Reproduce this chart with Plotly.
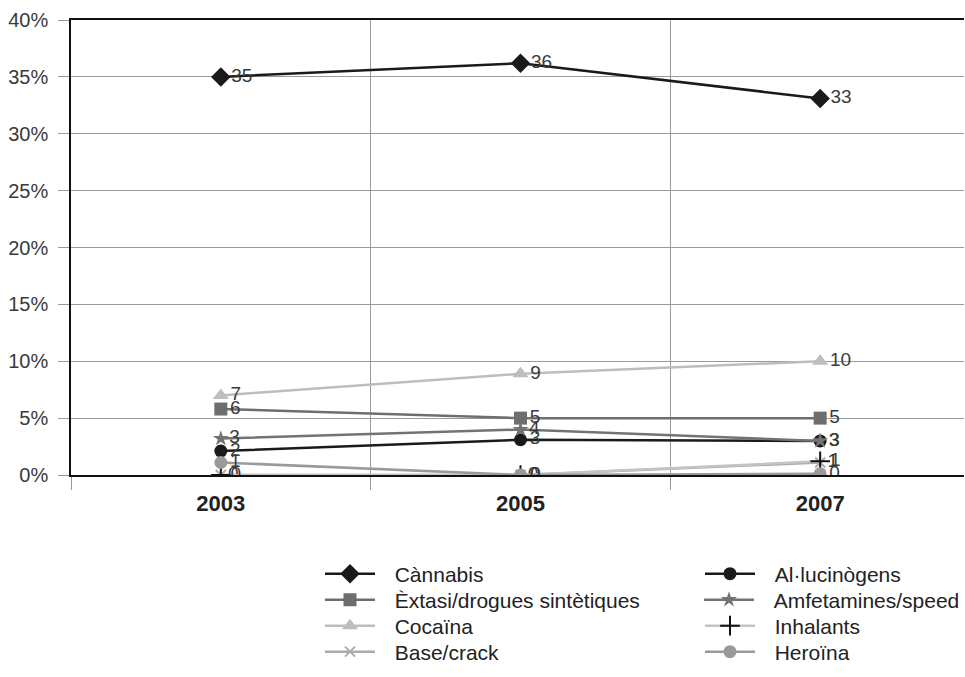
import plotly.graph_objects as go

# Survey years (category axis)
years = ["2003", "2005", "2007"]

# Prevalence of drug use, % of respondents
cannabis = [35.0, 36.2, 33.1]
extasi = [5.8, 5.0, 5.0]
cocaina = [7.0, 8.9, 10.0]
base_crack = [0.0, 0.0, 1.1]
allucinogens = [2.1, 3.1, 3.0]
amfetamines = [3.2, 4.0, 3.0]
inhalants = [0.0, 0.0, 1.2]
heroina = [1.1, 0.0, 0.1]

series_names = [
    "Cànnabis", "Èxtasi/drogues sintètiques", "Cocaïna", "Base/crack",
    "Al·lucinògens", "Amfetamines/speed", "Inhalants", "Heroïna",
]
series_values = [cannabis, extasi, cocaina, base_crack,
                 allucinogens, amfetamines, inhalants, heroina]

# line colour, marker symbol, marker colour, marker size
styles = [
    ("#1a1a1a", "diamond", "#1a1a1a", 15),
    ("#6e6e6e", "square", "#6e6e6e", 13),
    ("#bdbdbd", "triangle-up", "#bdbdbd", 14),
    ("#ababab", "x-thin", "#ababab", 10),
    ("#1a1a1a", "circle", "#1a1a1a", 13),
    ("#737373", "star", "#737373", 12),
    ("#c4c4c4", "cross-thin", "#111111", 14),
    ("#9a9a9a", "circle", "#9a9a9a", 13),
]

FONT = "Liberation Sans, Arial, sans-serif"
GAP = "\u2002\u2009"  # space between legend symbol and its text

fig = go.Figure()

legend_ids = ["legend"] + [f"legend{i}" for i in range(2, 9)]

for i, (name, vals) in enumerate(zip(series_names, series_values)):
    lc, sym, mc, ms = styles[i]
    fig.add_trace(go.Scatter(
        x=years, y=vals, name=GAP + name,
        mode="lines+markers+text",
        line=dict(color=lc, width=2.5),
        marker=dict(symbol=sym, color=mc, size=ms,
                    line=dict(color=mc, width=2 if "thin" in sym else 0)),
        texttemplate="%{y:.0f}",
        textposition="middle right",
        textfont=dict(family=FONT, size=19, color="#3a3a3a"),
        legend=legend_ids[i],
        hoverinfo="skip",
    ))

# Two columns of four legend entries, each placed individually
row_y = [574, 600, 626, 652]
plot_top, plot_bottom = 20, 475
plot_left, plot_right = 71, 965
col_x = [320, 700]
legend_layout = {}
for i, lid in enumerate(legend_ids):
    col, row = divmod(i, 4)
    ypix = row_y[row]
    legend_layout[lid] = dict(
        x=(col_x[col] - plot_left) / (plot_right - plot_left),
        y=(plot_bottom - ypix) / (plot_bottom - plot_top),
        xanchor="left", yanchor="middle",
        orientation="v",
        bgcolor="rgba(0,0,0,0)",
        borderwidth=0,
        itemwidth=50,
        font=dict(family=FONT, size=21, color="#222222"),
    )

fig.update_layout(
    width=965, height=677, autosize=False,
    margin=dict(l=plot_left, r=965 - plot_right, t=plot_top, b=677 - plot_bottom),
    paper_bgcolor="white", plot_bgcolor="white",
    showlegend=True,
    xaxis=dict(
        type="category", range=[-0.5, 2.48],
        tickson="boundaries", ticks="outside", ticklen=13,
        tickcolor="#9a9a9a", tickwidth=1,
        showgrid=True, gridcolor="#9a9a9a", gridwidth=1,
        showline=True, linecolor="#111111", linewidth=1.5, mirror=True,
        tickfont=dict(family=FONT, size=22, color="#222222", weight="bold"),
        ticklabelstandoff=8,
        zeroline=False,
    ),
    yaxis=dict(
        range=[0, 40], dtick=5, ticksuffix="%",
        ticks="outside", ticklen=11, tickcolor="#9a9a9a", tickwidth=1,
        showgrid=True, gridcolor="#9a9a9a", gridwidth=1,
        showline=True, linecolor="#111111", linewidth=1.5,
        tickfont=dict(family=FONT, size=20, color="#3a3a3a"),
        ticklabelstandoff=6,
        zeroline=False,
    ),
    **legend_layout,
)

fig.write_html("out.html")
